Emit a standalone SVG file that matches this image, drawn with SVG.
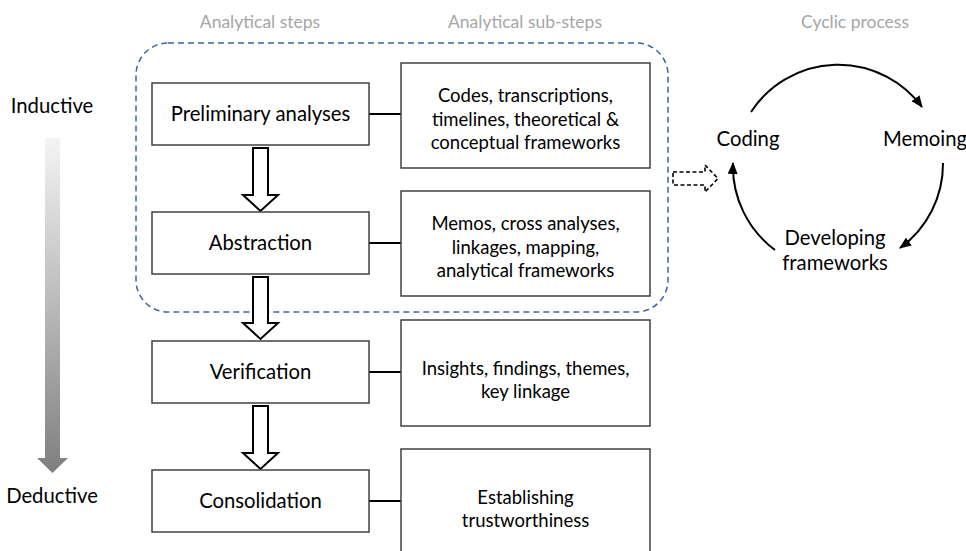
<svg xmlns="http://www.w3.org/2000/svg" width="966" height="551" viewBox="0 0 966 551">
<style>
text{font-family:Lato,"Open Sans","Liberation Sans",sans-serif;fill:#000;text-anchor:middle}
.hdr{font-size:17.5px;fill:#a6a6a6}
.lbl{font-size:20.3px}
.sub{font-size:18.5px}
.box{fill:#fff;stroke:#404040;stroke-width:1.5}
.link{stroke:#000;stroke-width:2;fill:none}
.blk{fill:#fff;stroke:#000;stroke-width:2;stroke-linejoin:miter}
.cyc{fill:none;stroke:#000;stroke-width:2;marker-end:url(#ah)}
</style>
<defs>
<linearGradient id="g" x1="0" y1="0" x2="0" y2="1">
<stop offset="0" stop-color="#f4f4f4"/>
<stop offset="1" stop-color="#7f7f7f"/>
</linearGradient>
<marker id="ah" viewBox="0 0 12 10" refX="11" refY="5" markerWidth="12" markerHeight="10" markerUnits="userSpaceOnUse" orient="auto">
<path d="M0,0 L12,5 L0,10 z" fill="#000"/>
</marker>
</defs>

<text class="hdr" x="260" y="28">Analytical steps</text>
<text class="hdr" x="525" y="28">Analytical sub-steps</text>
<text class="hdr" x="855" y="28">Cyclic process</text>

<g id="gradient-axis">
<text class="lbl" x="52" y="113">Inductive</text>
<path d="M45,138 H60 V458 H68 L52.5,473 L37,458 H45 Z" fill="url(#g)"/>
<text class="lbl" x="52" y="503">Deductive</text>
</g>

<g id="group-boundary">
<rect x="136" y="43" width="532" height="269" rx="32" ry="32" fill="none" stroke="#3d64a0" stroke-width="1.5" stroke-dasharray="6,4"/>
</g>

<g id="connectors">
<line class="link" x1="369" y1="114" x2="401" y2="114"/>
<line class="link" x1="369" y1="243" x2="401" y2="243"/>
<line class="link" x1="369" y1="372" x2="401" y2="372"/>
<line class="link" x1="369" y1="501" x2="401" y2="501"/>
<path class="blk" d="M253,148 H268 V195 H278 L260.5,211 L243,195 H253 Z"/>
<path class="blk" d="M253,277 H268 V323 H278 L260.5,339 L243,323 H253 Z"/>
<path class="blk" d="M253,406 H268 V453 H278 L260.5,469 L243,453 H253 Z"/>
<path d="M673,172 H705 V165 L718,178.5 L705,192 V185 H673 Z" fill="#fff" stroke="#000" stroke-width="1.6" stroke-dasharray="4,2.5"/>
<path class="cyc" d="M751,112 A104,104 0 0 1 922,107"/>
<path class="cyc" d="M943,163 A104,104 0 0 1 900,248"/>
<path class="cyc" d="M775,250 A104,104 0 0 1 733,163"/>
</g>

<g id="preliminary">
<rect class="box" x="152" y="83" width="217" height="62"/>
<text class="lbl" x="260.5" y="121">Preliminary analyses</text>
</g>
<g id="abstraction">
<rect class="box" x="152" y="212" width="217" height="62"/>
<text class="lbl" x="260.5" y="250">Abstraction</text>
</g>
<g id="verification">
<rect class="box" x="152" y="341" width="217" height="62"/>
<text class="lbl" x="260.5" y="379">Verification</text>
</g>
<g id="consolidation">
<rect class="box" x="152" y="470" width="217" height="62"/>
<text class="lbl" x="260.5" y="508">Consolidation</text>
</g>

<g id="sub1">
<rect class="box" x="401" y="63" width="249" height="105"/>
<text class="sub" x="525.5" y="102">Codes, transcriptions,</text>
<text class="sub" x="525.5" y="126">timelines, theoretical &amp;</text>
<text class="sub" x="525.5" y="149">conceptual frameworks</text>
</g>
<g id="sub2">
<rect class="box" x="401" y="191" width="249" height="105"/>
<text class="sub" x="525.5" y="230">Memos, cross analyses,</text>
<text class="sub" x="525.5" y="254">linkages, mapping,</text>
<text class="sub" x="525.5" y="277">analytical frameworks</text>
</g>
<g id="sub3">
<rect class="box" x="401" y="320" width="249" height="106"/>
<text class="sub" x="525.5" y="375">Insights, findings, themes,</text>
<text class="sub" x="525.5" y="398">key linkage</text>
</g>
<g id="sub4">
<rect class="box" x="401" y="449" width="249" height="110"/>
<text class="sub" x="525.5" y="504">Establishing</text>
<text class="sub" x="525.5" y="527">trustworthiness</text>
</g>

<g id="coding"><text class="lbl" x="748" y="146">Coding</text></g>
<g id="memoing"><text class="lbl" x="925" y="146">Memoing</text></g>
<g id="developing">
<text class="lbl" x="835" y="245">Developing</text>
<text class="lbl" x="835" y="270">frameworks</text>
</g>
</svg>
